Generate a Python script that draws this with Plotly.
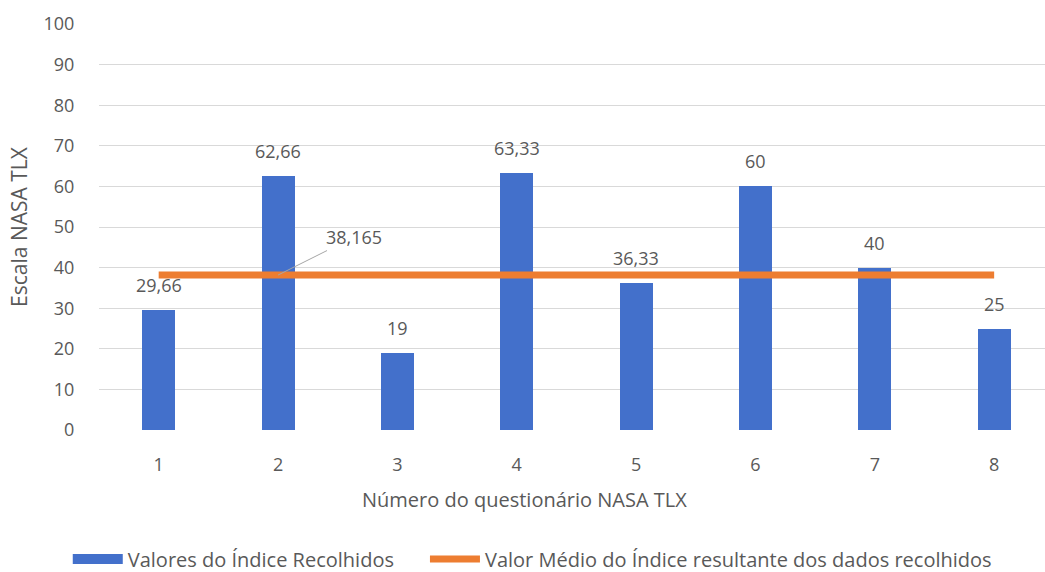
import plotly.graph_objects as go

# NASA TLX questionnaire results
questionarios = [1, 2, 3, 4, 5, 6, 7, 8]
valores_indice = [29.66, 62.66, 19, 63.33, 36.33, 60, 40, 25]
valor_medio = 38.165
y_ticks = [0, 10, 20, 30, 40, 50, 60, 70, 80, 90, 100]

NOME_BARRAS = "Valores do Índice Recolhidos"
NOME_MEDIA = "Valor Médio do Índice resultante dos dados recolhidos"
TITULO_X = "Número do questionário NASA TLX"
TITULO_Y = "Escala NASA TLX"

FONT = "Open Sans"
FS = 18
GREY = "#595959"
BLUE = "#4370cb"
ORANGE = "#ed7d31"


def pt(v):
    return f"{v:g}".replace(".", ",")


fig = go.Figure()

fig.add_trace(go.Bar(
    x=questionarios,
    y=valores_indice,
    name=NOME_BARRAS,
    marker=dict(color=BLUE, line=dict(width=0)),
    width=0.276,
    showlegend=False,
))

fig.add_trace(go.Scatter(
    x=questionarios,
    y=[valor_medio] * len(questionarios),
    name=NOME_MEDIA,
    mode="lines",
    line=dict(color=ORANGE, width=7),
    showlegend=False,
))

# legend entries (wide swatches); trailing spaces widen the gap between items
fig.add_trace(go.Scatter(
    x=[None], y=[None], name=NOME_BARRAS + "\u00a0" * 5, mode="lines",
    line=dict(color=BLUE, width=13),
))
fig.add_trace(go.Scatter(
    x=[None], y=[None], name=NOME_MEDIA, mode="lines",
    line=dict(color=ORANGE, width=7),
))

# value labels above each bar
for q, v in zip(questionarios, valores_indice):
    fig.add_annotation(
        x=q, y=v, text=pt(v), showarrow=False,
        yanchor="bottom", yshift=11,
        font=dict(family=FONT, size=FS, color=GREY),
    )

# label for the mean line with a leader
fig.add_annotation(
    x=2, y=valor_medio, text=pt(valor_medio),
    showarrow=True, arrowhead=0, arrowwidth=1, arrowcolor="#a6a6a6",
    ax=76, ay=-38,
    font=dict(family=FONT, size=FS, color=GREY),
)

# x axis title, centred on the chart area
fig.add_annotation(
    xref="paper", yref="paper", x=0.45, y=-0.172,
    text=TITULO_X, showarrow=False, xanchor="center", yanchor="middle",
    font=dict(family=FONT, size=20, color=GREY),
)

fig.update_layout(
    width=1045, height=572,
    margin=dict(l=99, r=0, t=24, b=142, autoexpand=False),
    paper_bgcolor="white", plot_bgcolor="white",
    font=dict(family=FONT, size=FS, color=GREY),
    separators=",.",
    showlegend=True,
    legend=dict(
        orientation="h", x=0.458, xanchor="center", y=-0.366, yanchor="bottom",
        font=dict(family=FONT, size=20, color=GREY),
        itemwidth=50,
        traceorder="normal",
        bgcolor="rgba(0,0,0,0)",
    ),
    bargap=0,
)

fig.update_xaxes(
    range=[0.5, 8.426],
    tickvals=questionarios,
    ticktext=[str(q) for q in questionarios],
    ticks="outside", ticklen=18, tickcolor="rgba(0,0,0,0)",
    showgrid=False, zeroline=False, showline=False,
    tickfont=dict(family=FONT, size=FS, color=GREY),
    automargin=False,
)

fig.update_yaxes(
    range=[0, 100],
    tickvals=y_ticks,
    ticks="outside", ticklen=20, tickcolor="rgba(0,0,0,0)",
    showgrid=True, gridcolor="#d9d9d9", gridwidth=1,
    zeroline=False, showline=False,
    title=dict(text=TITULO_Y, standoff=10,
               font=dict(family=FONT, size=21, color=GREY)),
    tickfont=dict(family=FONT, size=FS, color=GREY),
    automargin=False,
)

fig.write_html("out.html")
